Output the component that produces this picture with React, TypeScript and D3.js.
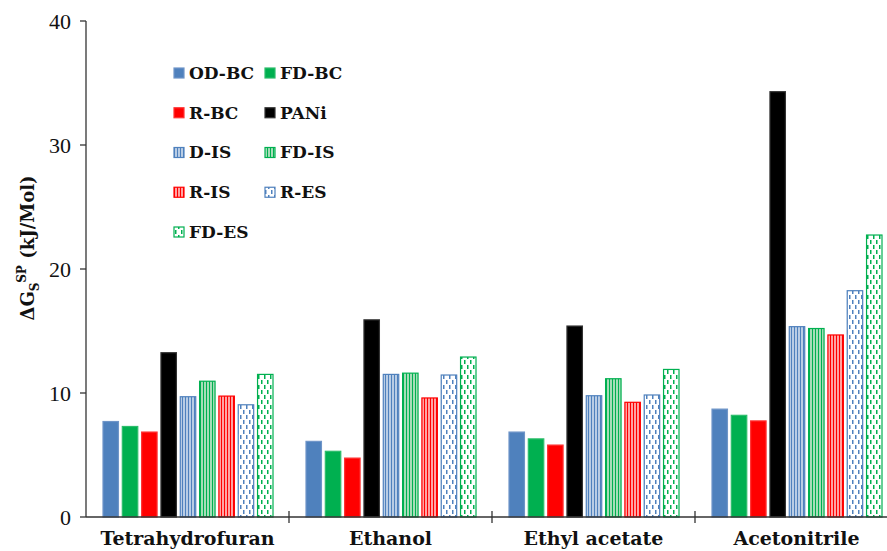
import React from "react";
import * as d3 from "d3";

const categories = ["Tetrahydrofuran", "Ethanol", "Ethyl acetate", "Acetonitrile"];
const seriesNames = ["OD-BC", "FD-BC", "R-BC", "PANi", "D-IS", "FD-IS", "R-IS", "R-ES", "FD-ES"];
const odBC = [7.7, 6.1, 6.85, 8.7];
const fdBC = [7.3, 5.3, 6.3, 8.2];
const rBC = [6.85, 4.75, 5.8, 7.75];
const pani = [13.25, 15.9, 15.4, 34.3];
const dIS = [9.7, 11.5, 9.78, 15.35];
const fdIS = [10.95, 11.6, 11.15, 15.2];
const rIS = [9.75, 9.6, 9.25, 14.68];
const rES = [9.05, 11.45, 9.84, 18.25];
const fdES = [11.5, 12.9, 11.9, 22.74];
const seriesValues = [odBC, fdBC, rBC, pani, dIS, fdIS, rIS, rES, fdES];
const yTicks = [0, 10, 20, 30, 40];

const styles: Record<string, { fill: string; stroke: string }> = {
  "OD-BC": { fill: "#4F81BD", stroke: "#6F95C8" },
  "FD-BC": { fill: "#00B050", stroke: "#2CBD6B" },
  "R-BC": { fill: "#FF0000", stroke: "#FF3333" },
  PANi: { fill: "#000000", stroke: "#333333" },
  "D-IS": { fill: "url(#pDIS)", stroke: "#4F81BD" },
  "FD-IS": { fill: "url(#pFDIS)", stroke: "#00B050" },
  "R-IS": { fill: "url(#pRIS)", stroke: "#FF0000" },
  "R-ES": { fill: "url(#pRES)", stroke: "#4F81BD" },
  "FD-ES": { fill: "url(#pFDES)", stroke: "#00B050" },
};

const W = 887;
const H = 551;
const SERIF = '"Liberation Serif", "DejaVu Serif", serif';
const BOLD_SERIF = '"DejaVu Serif", serif';

export default function App() {
  const y = d3.scaleLinear().domain([0, 40]).range([517, 21]);
  const x0 = d3.scaleBand<string>().domain(categories).range([86, 898]);
  const x1 = d3.scaleBand<string>().domain(seriesNames).range([17, 187]).paddingInner(0.2);
  const tstyle = { fontFamily: SERIF };
  const bstyle = { fontFamily: BOLD_SERIF };

  const legendRows = [
    ["OD-BC", "FD-BC"],
    ["R-BC", "PANi"],
    ["D-IS", "FD-IS"],
    ["R-IS", "R-ES"],
    ["FD-ES"],
  ];
  const legendY = d3.scaleLinear().domain([0, 4]).range([73, 232]);
  const legendX = [174, 265];

  const boundaries = categories.slice(1).map((c) => x0(c) as number);

  return (
    <svg
      width={W}
      height={H}
      style={{ position: "absolute", left: 0, top: 0, background: "#fff", fontFamily: SERIF }}
    >
      <defs>
        <pattern id="pDIS" width={3} height={4} patternUnits="userSpaceOnUse">
          <rect width={3} height={4} fill="#B9CDE5" />
          <rect x={0} width={1} height={4} fill="#4F81BD" />
        </pattern>
        <pattern id="pFDIS" width={3} height={4} patternUnits="userSpaceOnUse">
          <rect width={3} height={4} fill="#A6DDB8" />
          <rect x={0} width={1} height={4} fill="#00B050" />
        </pattern>
        <pattern id="pRIS" width={3} height={4} patternUnits="userSpaceOnUse">
          <rect width={3} height={4} fill="#FFA3A3" />
          <rect x={0} width={1} height={4} fill="#FF0000" />
        </pattern>
        <pattern id="pRES" width={6} height={10} patternUnits="userSpaceOnUse">
          <rect width={6} height={10} fill="#fff" />
          <rect x={1} y={0} width={1.5} height={4} fill="#4F81BD" />
          <rect x={4} y={5} width={1.5} height={4} fill="#4F81BD" />
        </pattern>
        <pattern id="pFDES" width={6} height={10} patternUnits="userSpaceOnUse">
          <rect width={6} height={10} fill="#fff" />
          <rect x={1} y={0} width={1.5} height={4} fill="#00B050" />
          <rect x={4} y={5} width={1.5} height={4} fill="#00B050" />
        </pattern>
      </defs>

      {/* bars */}
      {categories.map((c, ci) => (
        <g key={c} transform={`translate(${x0(c)},0)`}>
          {seriesNames.map((s, si) => {
            const v = seriesValues[si][ci];
            const st = styles[s];
            return (
              <rect
                key={s}
                x={x1(s)}
                y={y(v)}
                width={x1.bandwidth()}
                height={y(0) - y(v)}
                fill={st.fill}
                stroke={st.stroke}
                strokeWidth={1.2}
              />
            );
          })}
        </g>
      ))}

      {/* axes */}
      <line x1={86} x2={86} y1={21} y2={517} stroke="#333" strokeWidth={1.3} />
      <line x1={86} x2={W} y1={517} y2={517} stroke="#333" strokeWidth={1.3} />
      {yTicks.map((t) => (
        <g key={t}>
          <line x1={80} x2={86} y1={y(t)} y2={y(t)} stroke="#333" strokeWidth={1.3} />
          <text x={71} y={y(t)} dy="0.35em" textAnchor="end" fontSize={22} fill="#111" style={tstyle}>
            {t}
          </text>
        </g>
      ))}
      {boundaries.map((b, i) => (
        <line key={i} x1={b} x2={b} y1={511} y2={523} stroke="#333" strokeWidth={1.3} />
      ))}
      {categories.map((c) => (
        <text
          key={c}
          x={(x0(c) as number) + x0.bandwidth() / 2}
          y={545}
          textAnchor="middle"
          fontSize={19}
          fontWeight="bold"
          fill="#111"
          style={bstyle}
        >
          {c}
        </text>
      ))}

      {/* y title */}
      <text
        transform="translate(34,248) rotate(-90)"
        textAnchor="middle"
        fontSize={18}
        fontWeight="bold"
        fill="#111"
        style={bstyle}
      >
        ΔG
        <tspan fontSize={12} dy={5}>S</tspan>
        <tspan fontSize={12} dy={-13}>SP</tspan>
        <tspan dy={8}> (kJ/Mol)</tspan>
      </text>

      {/* legend */}
      {legendRows.map((row, ri) =>
        row.map((s, ci) => {
          const st = styles[s];
          const cy = legendY(ri);
          return (
            <g key={s}>
              <rect
                x={legendX[ci]}
                y={cy - 5}
                width={10}
                height={10}
                fill={st.fill}
                stroke={st.stroke}
                strokeWidth={1.2}
              />
              <text
                x={legendX[ci] + 15}
                y={cy}
                dy="0.35em"
                fontSize={17}
                fontWeight="bold"
                fill="#111"
                style={bstyle}
              >
                {s}
              </text>
            </g>
          );
        })
      )}
    </svg>
  );
}
